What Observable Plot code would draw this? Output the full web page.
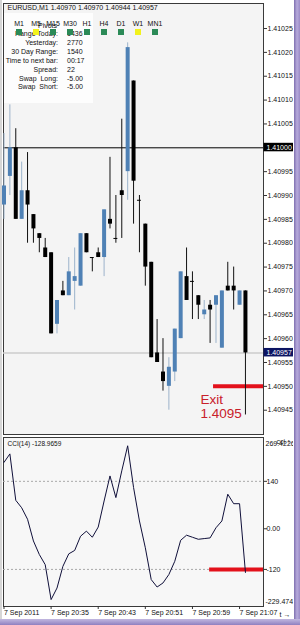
<!DOCTYPE html>
<html><head><meta charset="utf-8">
<script src="https://cdn.jsdelivr.net/npm/d3@7"></script>
<script src="https://cdn.jsdelivr.net/npm/@observablehq/plot@0.6"></script>
<style>
body{margin:0;background:#fff;}
#wrap{position:relative;width:300px;height:625px;overflow:hidden;background:#fff;font-family:"Liberation Sans",Arial,sans-serif;}
#main,#cci{position:absolute;left:0;}
#main{top:0}
#cci{top:436px}
.rb{position:absolute;left:294px;top:0;width:6px;height:625px;background:linear-gradient(to right,#7f70b0,#b6aadb,#9a8ac6);}
.bb{position:absolute;left:0;top:619px;width:300px;height:6px;background:linear-gradient(#c2b8e0,#8f80c0);}
.lb{position:absolute;left:0;top:0;width:2px;height:619px;background:#d6d6d6;}
#info{position:absolute;left:4px;top:13px;width:89px;height:90px;background:#fdfdfd;}
.t{position:absolute;font-size:7px;line-height:8px;color:#111;white-space:pre;}
.sq{position:absolute;width:6px;height:6px;}
</style></head><body>
<div id="wrap"><div id="main"></div><div id="cci"></div><div id="info"></div><div class="lb"></div><div class="rb"></div><div class="bb"></div></div>
<script>
// ---------- data ----------
const symbol = "EURUSD";
const period = "M1";
const times = ["20:27","20:28","20:29","20:30","20:31","20:32","20:33","20:34","20:35","20:36","20:37","20:38","20:39","20:40","20:41","20:42","20:43","20:44","20:45","20:46","20:47","20:48","20:49","20:50","20:51","20:52","20:53","20:54","20:55","20:56","20:57","20:58","20:59","21:00","21:01","21:02","21:03","21:04","21:05","21:06","21:07","21:08"];
const open  = [1.40988,1.40994,1.41000,1.40985,1.40991,1.40986,1.40982,1.40979,1.40978,1.40963,1.40970,1.40969,1.40972,1.40971,1.40982,1.40977,1.40978,1.40977,1.40985,1.40981,1.40991,1.40995,1.41014,1.40989,1.40984,1.40976,1.40957,1.40953,1.40950,1.40953,1.40960,1.40973,1.40972,1.40969,1.40965,1.40967,1.40967,1.40958,1.40971,1.40971,1.40967,1.40970];
const high  = [1.41003,1.41009,1.41004,1.40997,1.40999,1.40986,1.40982,1.40981,1.40978,1.40968,1.40972,1.40977,1.40979,1.40982,1.40982,1.40977,1.40979,1.40987,1.40998,1.40990,1.41006,1.41022,1.41014,1.40990,1.40984,1.40976,1.40964,1.40960,1.40956,1.40962,1.40974,1.40979,1.40974,1.40969,1.40968,1.40968,1.40969,1.40970,1.40976,1.40975,1.40970,1.40970];
const low   = [1.40985,1.40990,1.40985,1.40985,1.40980,1.40980,1.40978,1.40977,1.40961,1.40961,1.40969,1.40969,1.40966,1.40971,1.40978,1.40974,1.40977,1.40973,1.40983,1.40980,1.40981,1.40989,1.40984,1.40978,1.40971,1.40956,1.40955,1.40949,1.40945,1.40951,1.40960,1.40968,1.40964,1.40964,1.40964,1.40959,1.40959,1.40958,1.40970,1.40966,1.40967,1.40944];
const close = [1.40992,1.41000,1.40985,1.40991,1.40988,1.40983,1.40981,1.40977,1.40961,1.40968,1.40969,1.40974,1.40973,1.40982,1.40978,1.40977,1.40977,1.40987,1.40984,1.40981,1.40990,1.41021,1.40993,1.40989,1.40975,1.40956,1.40955,1.40951,1.40954,1.40962,1.40974,1.40968,1.40972,1.40967,1.40966,1.40966,1.40969,1.40970,1.40970,1.40970,1.40970,1.40957];
const cci   = [196,221,84,62,28,-36,-76,-106,-209,-175,-111,-74,-64,-22,-7,-25,5,82,156,92,171,245,122,23,-56,-150,-172,-160,-135,-96,-34,-19,-25,-31,-29,-27,3,23,102,74,74,-129];

const priceTicks = [1.41025,1.41020,1.41015,1.41010,1.41005,1.40995,1.40990,1.40985,1.40980,1.40975,1.40970,1.40965,1.40960,1.40955,1.40950,1.40945];
const roundLevel = 1.41000;
const exitPrice = 1.40950;
const exitLineFrom = "21:02:35";
const exitTextAt = "21:00:22";
const exitText = "Exit\n1.4095";

const cciTitle = "CCI(14) -128.9659";
const cciLevels = [140, -120];
const cciTicks = [140, 0, -120];
const cciTickLabels = ["140", "0.00", "-120"];
const cciMax = 269.4226, cciMaxLabel = "269.4226";
const cciMin = -229.474, cciMinLabel = "-229.474";
const cciExit = -120;
const cciExitFrom = "21:01:55";

const timeTicks = ["20:27","20:35","20:43","20:51","20:59","21:07"];
const timeLabels = ["7 Sep 2011","7 Sep 20:35","7 Sep 20:43","7 Sep 20:51","7 Sep 20:59","7 Sep 21:07"];

const tfLabels = ["M1","M5","M15","M30","H1","H4","D1","W1","MN1"];
const tfColors = ["#2b8a57","#f2f21c","#2b8a57","#2b8a57","#2b8a57","#2b8a57","#2b8a57","#f2f21c","#2b8a57"];
const infoLabels = ["Range Today:","Yesterday:","30 Day Range:","Time to next bar:","Spread:","Swap  Long:","Swap  Short:"];
const infoValues = ["1436","2770","1540","00:17","22","-5.00","-5.00"];

// ---------- build ----------
const T = s => new Date(`2011-09-07T${s.length === 5 ? s + ":00" : s}Z`);
const data = times.map((t, i) => ({t: T(t), o: open[i], h: high[i], l: low[i], c: close[i], cci: cci[i]}));
const last = data[data.length - 1];
const xDomain = [T("20:26:55"), T("21:11:04")];
const FONT = "'Liberation Sans', Arial, sans-serif";
const BULL = "#4f81b5", BULLWICK = "#9cb3cb", BEAR = "#000", RED = "#e3111b";
const title = `${symbol},${period} ${last.o.toFixed(5)} ${last.h.toFixed(5)} ${last.l.toFixed(5)} ${last.c.toFixed(5)}`;

const main = Plot.plot({
  width: 293, height: 436,
  marginLeft: 3, marginRight: 30, marginTop: 3, marginBottom: 2,
  style: {fontFamily: FONT, fontSize: "7px", background: "transparent", color: "#111"},
  x: {type: "utc", domain: xDomain, axis: null},
  y: {domain: [1.40939908, 1.41030245], axis: null},
  color: {type: "identity"},
  marks: [
    Plot.frame({fill: "#f4f4f4", stroke: "#3a3a3a"}),
    Plot.ruleY([roundLevel], {stroke: "#000"}),
    Plot.ruleY([last.c], {stroke: "#cdcdcd", strokeWidth: 1.5}),
    Plot.ruleY([exitPrice], {x1: T(exitLineFrom), x2: xDomain[1], stroke: RED, strokeWidth: 4}),
    Plot.ruleX(data, {x: "t", y1: "l", y2: "h", stroke: d => d.c > d.o ? BULLWICK : "#111"}),
    Plot.ruleX(data, {x: "t", y1: "o", y2: "c", stroke: d => d.c > d.o ? BULL : BEAR, strokeWidth: 4}),
    Plot.ruleY(data.filter(d => d.o === d.c), {y: "o", x1: d => new Date(+d.t - 20000), x2: d => new Date(+d.t + 20000), stroke: "#000"}),
    Plot.text([exitText], {x: T(exitTextAt), y: exitPrice, dy: 8, text: d => d, textAnchor: "start", lineAnchor: "top", lineHeight: 1.04, fontSize: 13.5, fill: "#c8202a"}),
    Plot.axisY({anchor: "right", ticks: priceTicks, tickFormat: d => d.toFixed(5), tickSize: 3, tickPadding: 1, fontSize: 7, stroke: "#333"}),
    Plot.text([title], {frameAnchor: "top-left", dx: 4, dy: 2, lineAnchor: "top", fontSize: 7, fill: "#111"})
  ]
});
document.getElementById("main").appendChild(main);

function addPriceBox(plot, price, bg) {
  const ys = plot.scale("y"), xs = plot.scale("x");
  const yf = ys.apply ? v => ys.apply(v) : d3.scaleLinear(ys.domain, ys.range);
  const xf = xs.apply ? v => xs.apply(v) : d3.scaleUtc(xs.domain, xs.range);
  const y = yf(price), x = xf(xDomain[1]);
  const g = d3.select(plot).append("g").attr("text-anchor", "start");
  g.append("rect").attr("x", x + 0.5).attr("y", y - 4.5).attr("width", 30).attr("height", 8.5).attr("fill", bg);
  g.append("text").attr("x", x + 3.5).attr("y", y).attr("dy", "0.35em").attr("fill", "#fff")
    .attr("text-anchor", "start").attr("font-size", 7).attr("font-family", FONT).text(price.toFixed(5));
}
addPriceBox(main, roundLevel, "#000");
addPriceBox(main, last.c, "#0c1462");

const labelByTime = new Map(timeTicks.map((t, i) => [+T(t), timeLabels[i]]));
const cciPlot = Plot.plot({
  width: 293, height: 183,
  marginLeft: 3, marginRight: 30, marginTop: 1, marginBottom: 13,
  style: {fontFamily: FONT, fontSize: "7px", background: "transparent", color: "#111"},
  x: {type: "utc", domain: xDomain, axis: null},
  y: {domain: [cciMin, cciMax], axis: null},
  marks: [
    Plot.frame({fill: "#f7f7f7", stroke: "#3a3a3a"}),
    Plot.ruleY(cciLevels, {stroke: "#a9a9a9", strokeDasharray: "2,2"}),
    Plot.ruleY([cciExit], {x1: T(cciExitFrom), x2: xDomain[1], stroke: RED, strokeWidth: 4}),
    Plot.line(data, {x: "t", y: "cci", stroke: "#10103a", strokeWidth: 1}),
    Plot.axisY({anchor: "right", ticks: cciTicks, tickFormat: d => cciTickLabels[cciTicks.indexOf(d)], tickSize: 3, tickPadding: 0, fontSize: 7, stroke: "#333"}),
    Plot.text([cciMax], {x: xDomain[1], y: d => d, text: () => cciMaxLabel, dx: 2, dy: 6, textAnchor: "start", fontSize: 7}),
    Plot.text([cciMin], {x: xDomain[1], y: d => d, text: () => cciMinLabel, dx: 2, dy: -5, textAnchor: "start", fontSize: 7}),
    Plot.axisX({ticks: timeTicks.map(T), tickFormat: d => labelByTime.get(+d), textAnchor: "start", tickSize: 3, tickPadding: 1, fontSize: 7, stroke: "#333"}),
    Plot.text([cciTitle], {frameAnchor: "top-left", dx: 4, dy: 4, lineAnchor: "top", fontSize: 6.5, fill: "#111"})
  ]
});
document.getElementById("cci").appendChild(cciPlot);

// ---------- info panel (real text) ----------
const wrap = document.getElementById("wrap");
function addText(txt, left, top, align) {
  const s = document.createElement("div");
  s.className = "t";
  s.textContent = txt;
  s.style.top = top + "px";
  if (align === "right") { s.style.right = (300 - left) + "px"; }
  else if (align === "center") { s.style.left = (left - 20) + "px"; s.style.width = "40px"; s.style.textAlign = "center"; }
  else s.style.left = left + "px";
  wrap.appendChild(s);
  return s;
}
infoLabels.forEach((l, i) => {
  const top = 30 + i * 8.9;
  addText(l, 58, top, "right");
  addText(infoValues[i], 67, top, "left");
});
tfLabels.forEach((l, i) => addText(l, 19 + i * 17, 20, "center"));
addText("Pivots", 38, 22, "left");
tfLabels.forEach((l, i) => {
  const q = document.createElement("div");
  q.className = "sq";
  q.style.left = (16 + i * 17) + "px";
  q.style.top = "29px";
  q.style.background = tfColors[i];
  wrap.appendChild(q);
});
</script>
</body></html>
